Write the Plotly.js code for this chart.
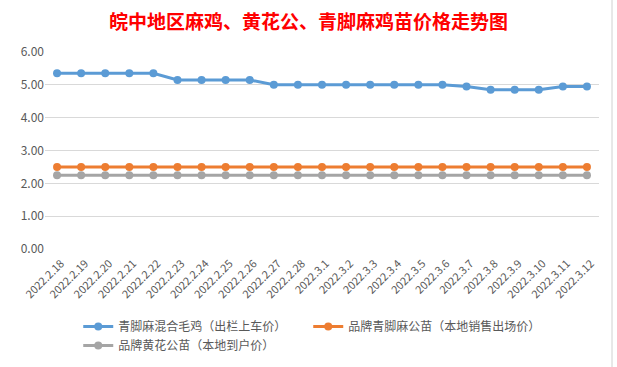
<!DOCTYPE html>
<html><head><meta charset="utf-8">
<script src="https://cdn.plot.ly/plotly-3.0.1.min.js"></script>
<style>body{margin:0;padding:0;background:#fff}#c{width:617px;height:367px}</style>
</head><body><div id="c"></div>
<script>
const dates = ["2022.2.18","2022.2.19","2022.2.20","2022.2.21","2022.2.22","2022.2.23","2022.2.24","2022.2.25","2022.2.26","2022.2.27","2022.2.28","2022.3.1","2022.3.2","2022.3.3","2022.3.4","2022.3.5","2022.3.6","2022.3.7","2022.3.8","2022.3.9","2022.3.10","2022.3.11","2022.3.12"];
const mixed = [5.35,5.35,5.35,5.35,5.35,5.15,5.15,5.15,5.15,5.00,5.00,5.00,5.00,5.00,5.00,5.00,5.00,4.95,4.85,4.85,4.85,4.95,4.95];
const brandQingjiao = [2.50,2.50,2.50,2.50,2.50,2.50,2.50,2.50,2.50,2.50,2.50,2.50,2.50,2.50,2.50,2.50,2.50,2.50,2.50,2.50,2.50,2.50,2.50];
const brandHuanghua = [2.25,2.25,2.25,2.25,2.25,2.25,2.25,2.25,2.25,2.25,2.25,2.25,2.25,2.25,2.25,2.25,2.25,2.25,2.25,2.25,2.25,2.25,2.25];
const names = ["青脚麻混合毛鸡（出栏上车价）","品牌青脚麻公苗（本地销售出场价）","品牌黄花公苗（本地到户价）"];
const yTicks = [0,1,2,3,4,5,6];
const yTickText = ["0.00","1.00","2.00","3.00","4.00","5.00","6.00"];
const colors = ["#5B9BD5","#ED7D31","#A5A5A5"];
const font = "'Noto Sans CJK SC', 'Noto Sans', sans-serif";
const series = [mixed, brandQingjiao, brandHuanghua];
const traces = series.map((s,i)=>({
  x: dates, y: s, name: names[i], type:'scatter', mode:'lines+markers',
  line:{color:colors[i], width:3}, marker:{color:colors[i], size:8}, hoverinfo:'skip'
}));
const layout = {
  width:617, height:367,
  margin:{l:45, r:18, t:52, b:118, autoexpand:false},
  paper_bgcolor:'#fff', plot_bgcolor:'#fff',
  font:{family:font, color:'#595959', size:12},
  title:{text:"皖中地区麻鸡、黄花公、青脚麻鸡苗价格走势图", font:{family:font, size:19, color:'#FF0000', weight:'bold'}, xref:'container', x:0.5, xanchor:'center', yref:'container', y:1-22/367, yanchor:'middle'},
  xaxis:{type:'category', range:[-0.5,22.5], tickangle:-45, automargin:false, showgrid:false, zeroline:false, showline:false, ticks:'', ticklabelstandoff:5, ticklabelshift:4, tickfont:{size:11, color:'#595959'}, fixedrange:true},
  yaxis:{range:[0,6], tickvals:yTicks, ticktext:yTickText, automargin:false, showgrid:true, gridcolor:'#D9D9D9', gridwidth:1, zeroline:false, showline:false, ticks:'', tickfont:{size:12, color:'#595959'}, fixedrange:true},
  showlegend:true,
  legend:{orientation:'h', x:0.06, xanchor:'left', y:-0.32, yanchor:'top', font:{size:12, color:'#595959'}, entrywidth:185, tracegroupgap:0, itemwidth:30},
  shapes:[{type:'line', xref:'paper', yref:'paper', x0:1.0235, x1:1.0235, y0:-1, y1:1.5, line:{color:'#D0D0D0', width:1}}]
};
Plotly.newPlot('c', traces, layout, {displayModeBar:false, staticPlot:true});
</script></body></html>
